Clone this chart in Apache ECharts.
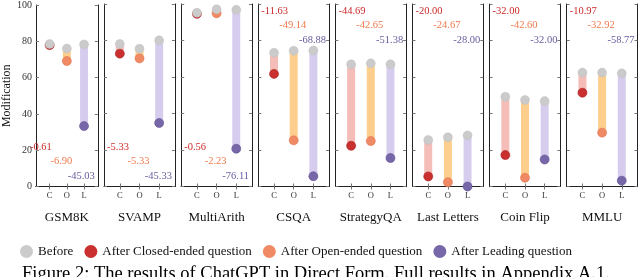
<!DOCTYPE html>
<html><head><meta charset="utf-8">
<script src="https://cdn.jsdelivr.net/npm/echarts@6/dist/echarts.min.js"></script>
<style>html,body{margin:0;padding:0;background:#fff;overflow:hidden}#c{width:640px;height:277px}</style>
</head><body><div id="c"></div>
<script>
const categories = ['GSM8K','SVAMP','MultiArith','CSQA','StrategyQA','Last Letters','Coin Flip','MMLU'];
const conditions = ['C','O','L'];
const beforeC = [78.5, 78.1, 95.2, 73.3, 67.0, 25.5, 49.2, 62.4];
const afterC  = [77.9, 72.8, 94.6, 61.7, 22.3, 5.5, 17.2, 51.4];
const beforeO = [76.0, 75.5, 97.1, 74.4, 67.5, 27.0, 47.4, 62.4];
const afterO  = [69.1, 70.2, 94.9, 25.3, 24.9, 2.3, 4.8, 29.5];
const beforeL = [78.3, 80.1, 96.8, 74.5, 67.0, 28.0, 46.8, 62.0];
const afterL  = [33.3, 34.8, 20.7, 5.6, 15.6, 0.0, 14.8, 3.2];
const diffC = ['-0.61','-5.33','-0.56','-11.63','-44.69','-20.00','-32.00','-10.97'];
const diffO = ['-6.90','-5.33','-2.23','-49.14','-42.65','-24.67','-42.60','-32.92'];
const diffL = ['-45.03','-45.33','-76.11','-68.88','-51.38','-28.00','-32.00','-58.77'];
const yTicks = [0, 20, 40, 60, 80, 100];
const labelAtBottom = [true, true, true, false, false, false, false, false];

const seriesNames = ['Before','After Closed-ended question','After Open-ended question','After Leading question'];
const dotColors = ['#cbcbcb','#c9302f','#f08a64','#7767a8'];
const dotBorders = ['#bdbdbd','#a82222','#e07050','#5f5090'];
const barColors = ['#f4bdb7','#fecf8c','#d6cdee'];
const textColors = ['#cc2a2a','#f07a4e','#6b5b9f'];
const FONT = '"Liberation Serif", "DejaVu Serif", serif';

const G_LEFT = 27, G_STEP = 77.1, G_W = 70.8, G_TOP = 4, G_H = 182.5;

const grids = [], xAxes = [], yAxes = [], series = [], graphics = [];
categories.forEach((cat, i) => {
  const left = G_LEFT + G_STEP * i;
  grids.push({left: left, top: G_TOP, width: G_W, height: G_H});
  const axLine = {show: true, lineStyle: {color: '#222', width: 1}};
  const tick = {show: true, inside: true, length: 3, lineStyle: {color: '#777'}};
  xAxes.push({gridIndex: i, type: 'value', min: 0.2, max: 3.8, position: 'bottom',
    axisLine: axLine, splitLine: {show: false},
    axisTick: Object.assign({customValues: [1,2,3]}, tick),
    axisLabel: {customValues: [1,2,3], formatter: v => conditions[Math.round(v) - 1] || '',
      fontFamily: FONT, fontSize: 8.5, color: '#333', margin: 5},
    name: cat, nameLocation: 'middle', nameGap: 25,
    nameTextStyle: {fontFamily: FONT, fontSize: 13, color: '#111'}});
  xAxes.push({gridIndex: i, type: 'value', min: 0.2, max: 3.8, position: 'top',
    axisLine: axLine, splitLine: {show: false},
    axisTick: Object.assign({customValues: [1,2,3]}, tick), axisLabel: {show: false}});
  yAxes.push({gridIndex: i, type: 'value', min: 0, max: 100, interval: 20, position: 'left',
    axisLine: axLine, splitLine: {show: false}, axisTick: tick,
    axisLabel: {show: i === 0, fontFamily: FONT, fontSize: 10, color: '#333', margin: 4,
      customValues: yTicks},
    name: i === 0 ? 'Modification' : '', nameLocation: 'middle', nameGap: 16,
    nameTextStyle: {fontFamily: FONT, fontSize: 12, color: '#111'}});
  yAxes.push({gridIndex: i, type: 'value', min: 0, max: 100, interval: 20, position: 'right',
    axisLine: axLine, splitLine: {show: false}, axisTick: tick, axisLabel: {show: false}});

  const xa = 2 * i, ya = 2 * i;
  const befores = [beforeC[i], beforeO[i], beforeL[i]];
  const afters = [afterC[i], afterO[i], afterL[i]];
  series.push({type: 'custom', xAxisIndex: xa, yAxisIndex: ya, z: 1, silent: true,
    data: [0,1,2].map(k => [k + 1, befores[k], afters[k]]),
    renderItem: (params, api) => {
      const p0 = api.coord([api.value(0), api.value(1)]);
      const p1 = api.coord([api.value(0), api.value(2)]);
      return {type: 'line', shape: {x1: p0[0], y1: p0[1], x2: p1[0], y2: p1[1]},
        style: {stroke: barColors[params.dataIndex], lineWidth: 8, lineCap: 'round'}};
    }});
  [0,1,2].forEach(k => {
    series.push({type: 'scatter', name: seriesNames[k + 1], xAxisIndex: xa, yAxisIndex: ya, z: 2,
      symbolSize: 9, data: [[k + 1, afters[k]]],
      itemStyle: {color: dotColors[k + 1], borderColor: dotBorders[k + 1], borderWidth: 0.6, opacity: 1}});
  });
  series.push({type: 'scatter', name: seriesNames[0], xAxisIndex: xa, yAxisIndex: ya, z: 3,
    symbolSize: 9, data: [0,1,2].map(k => [k + 1, befores[k]]),
    itemStyle: {color: dotColors[0], borderColor: dotBorders[0], borderWidth: 0.4, opacity: 1}});

  const diffs = [diffC[i], diffO[i], diffL[i]];
  const ys = labelAtBottom[i] ? [G_TOP + G_H - 39.5, G_TOP + G_H - 25, G_TOP + G_H - 10.5]
                              : [G_TOP + 7.7, G_TOP + 21.7, G_TOP + 36];
  const xs = [left + 3, left + G_W / 2 - 1, left + G_W - 3];
  const aligns = ['left', 'center', 'right'];
  [0,1,2].forEach(k => {
    graphics.push({type: 'text', x: xs[k], y: ys[k], z: 10,
      style: {text: diffs[k], fill: textColors[k], font: '10.5px ' + FONT,
        textAlign: aligns[k], textVerticalAlign: 'middle'}});
  });
});

graphics.push({type: 'text', x: 22, y: 265,
  style: {text: 'Figure 2: The results of ChatGPT in Direct Form. Full results in Appendix A.1.',
    fill: '#000', font: '18.5px ' + FONT, textVerticalAlign: 'top'}});

const chart = echarts.init(document.getElementById('c'), null, {renderer: 'canvas'});
chart.setOption({
  animation: false,
  grid: grids, xAxis: xAxes, yAxis: yAxes, series: series, graphic: graphics,
  legend: {data: seriesNames, left: 15, top: 240, icon: 'circle', itemWidth: 13, itemHeight: 13,
    itemGap: 11, itemStyle: {borderWidth: 0},
    textStyle: {fontFamily: FONT, fontSize: 13, color: '#111'}}
});
</script></body></html>
